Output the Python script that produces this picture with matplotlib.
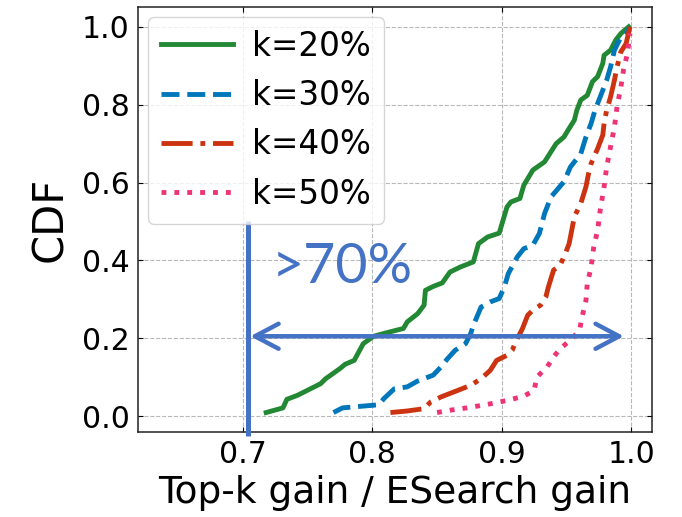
import numpy as np
import matplotlib
matplotlib.use("Agg")
import matplotlib.pyplot as plt

# CDF curves (x = Top-k gain / ESearch gain, y = CDF)
k20_x = [0.718, 0.731, 0.734, 0.742, 0.760, 0.764, 0.775, 0.779, 0.786, 0.793,
         0.801, 0.811, 0.824, 0.827, 0.835, 0.840, 0.841, 0.847, 0.854, 0.860,
         0.868, 0.878, 0.882, 0.889, 0.898, 0.904, 0.907, 0.914, 0.917, 0.924,
         0.933, 0.942, 0.948, 0.952, 0.956, 0.958, 0.961, 0.966, 0.970, 0.974,
         0.978, 0.979, 0.984, 0.988, 0.992, 0.998]
k20_y = [0.009, 0.021, 0.043, 0.053, 0.083, 0.096, 0.122, 0.133, 0.143, 0.186,
         0.205, 0.214, 0.225, 0.242, 0.263, 0.285, 0.323, 0.333, 0.342, 0.370,
         0.383, 0.396, 0.443, 0.460, 0.470, 0.537, 0.550, 0.559, 0.593, 0.632,
         0.653, 0.700, 0.717, 0.739, 0.760, 0.786, 0.812, 0.824, 0.859, 0.872,
         0.906, 0.927, 0.940, 0.966, 0.983, 1.000]

k30_x = [0.770, 0.777, 0.791, 0.805, 0.809, 0.817, 0.827, 0.835, 0.847, 0.853,
         0.858, 0.864, 0.872, 0.876, 0.878, 0.884, 0.891, 0.898, 0.902, 0.905,
         0.912, 0.917, 0.924, 0.929, 0.933, 0.938, 0.948, 0.953, 0.961, 0.965,
         0.969, 0.972, 0.976, 0.981, 0.984, 0.987, 0.992, 0.997, 0.999]
k30_y = [0.009, 0.021, 0.025, 0.029, 0.045, 0.070, 0.075, 0.090, 0.105, 0.126,
         0.147, 0.169, 0.186, 0.212, 0.233, 0.280, 0.293, 0.302, 0.332, 0.366,
         0.409, 0.430, 0.439, 0.469, 0.520, 0.563, 0.602, 0.640, 0.674, 0.717,
         0.752, 0.786, 0.820, 0.863, 0.897, 0.940, 0.974, 0.987, 1.000]

k40_x = [0.814, 0.827, 0.840, 0.845, 0.853, 0.863, 0.876, 0.884, 0.891, 0.896,
         0.904, 0.908, 0.912, 0.916, 0.920, 0.924, 0.930, 0.934, 0.936, 0.940,
         0.945, 0.949, 0.952, 0.954, 0.956, 0.961, 0.965, 0.967, 0.969, 0.974,
         0.978, 0.979, 0.981, 0.984, 0.987, 0.989, 0.992, 0.996, 0.999]
k40_y = [0.009, 0.013, 0.019, 0.036, 0.049, 0.062, 0.079, 0.096, 0.117, 0.143,
         0.156, 0.169, 0.199, 0.225, 0.259, 0.272, 0.285, 0.306, 0.332, 0.375,
         0.387, 0.417, 0.443, 0.477, 0.512, 0.546, 0.589, 0.623, 0.649, 0.687,
         0.722, 0.752, 0.786, 0.820, 0.863, 0.897, 0.936, 0.957, 1.000]

k50_x = [0.850, 0.860, 0.873, 0.889, 0.904, 0.917, 0.925, 0.927, 0.935, 0.940,
         0.945, 0.953, 0.960, 0.962, 0.965, 0.966, 0.969, 0.971, 0.974, 0.976,
         0.979, 0.981, 0.984, 0.987, 0.989, 0.992, 0.994, 0.997, 0.999]
k50_y = [0.009, 0.015, 0.021, 0.030, 0.040, 0.051, 0.066, 0.100, 0.126, 0.152,
         0.173, 0.195, 0.220, 0.255, 0.297, 0.340, 0.383, 0.434, 0.477, 0.529,
         0.589, 0.640, 0.692, 0.743, 0.794, 0.846, 0.889, 0.931, 0.983]

labels = ["k=20%", "k=30%", "k=40%", "k=50%"]
x_ticks = [0.7, 0.8, 0.9, 1.0]
y_ticks = [0.0, 0.2, 0.4, 0.6, 0.8, 1.0]

# annotation (drawn on top in the original)
threshold = 0.704
arrow_left, arrow_right, arrow_y = 0.7057, 0.9943, 0.205
note_text = ">70%"

ANNOT = "#4472C4"

fig = plt.figure(figsize=(6.82, 5.17), dpi=100)
ax = fig.add_axes([0.2023, 0.1644, 0.7537, 0.8221])

series = [(k20_x, k20_y, "-", "#228833"),
          (k30_x, k30_y, "--", "#0077BB"),
          (k40_x, k40_y, "-.", "#CC3311"),
          (k50_x, k50_y, ":", "#EE3377")]
for (xs, ys, ls, col), lab in zip(series, labels):
    ax.plot(xs, ys, linestyle=ls, color=col, lw=3.5, label=lab)

ax.set_xlim(0.619, 1.016)
ax.set_ylim(-0.041, 1.051)
ax.set_xticks(x_ticks)
ax.set_yticks(y_ticks)
ax.set_xticklabels([f"{v:.1f}" for v in x_ticks])
ax.set_yticklabels([f"{v:.1f}" for v in y_ticks])
ax.tick_params(direction="in", top=True, right=True, labelsize=21.5, pad=6)
ax.grid(True, linestyle="--", color="#b8b8b8", lw=0.8)
for sp in ax.spines.values():
    sp.set_linewidth(1.1)
    sp.set_color("#222222")

ax.set_xlabel("Top-k gain / ESearch gain", fontsize=27, labelpad=4)
ax.set_ylabel("CDF", fontsize=30, labelpad=8)

ax.legend(loc="upper left", fontsize=23.5, handlelength=2.2,
          borderaxespad=0.3, handletextpad=0.6, framealpha=0.8)

# vertical line and double arrow
ax.plot([threshold, threshold], [-0.05, 0.5], color=ANNOT, lw=3.6,
        clip_on=False, solid_capstyle="butt", zorder=5)
ax.annotate("", xy=(arrow_right, arrow_y), xytext=(arrow_left, arrow_y),
            arrowprops=dict(arrowstyle="<->,head_length=0.85,head_width=0.45",
                            color=ANNOT, lw=3.2, mutation_scale=20,
                            shrinkA=0, shrinkB=0),
            zorder=5)
ax.text(0.722, 0.343, note_text, color=ANNOT, fontsize=40, family="Lato",
        ha="left", va="baseline", zorder=5)

fig.savefig("out.png", dpi=100)
